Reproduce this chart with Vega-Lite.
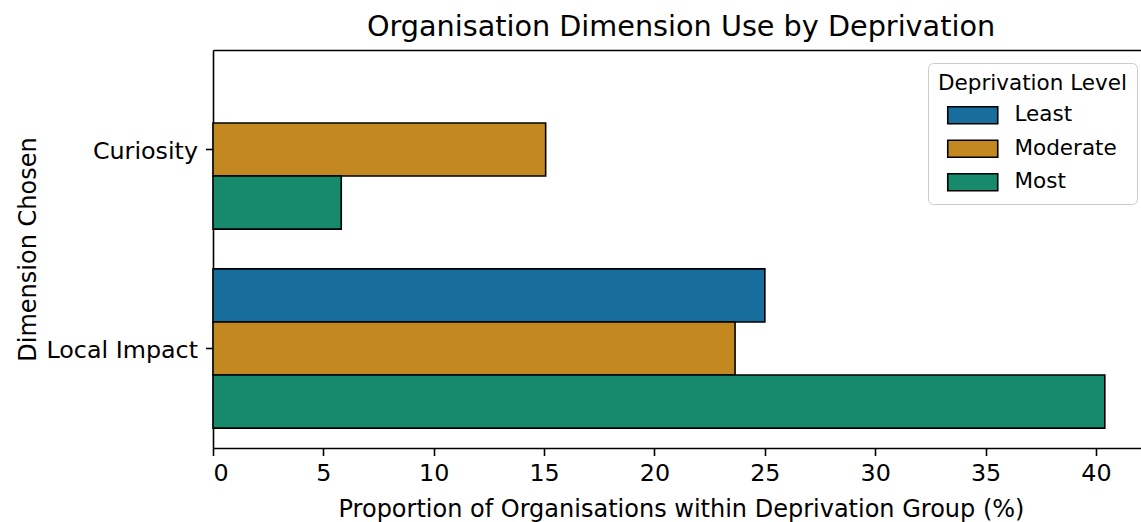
{
  "$schema": "https://vega.github.io/schema/vega-lite/v6.json",
  "autosize": {"type": "none"},
  "padding": {"left": 213, "top": 50, "right": 0, "bottom": 74},
  "width": 928,
  "height": 398,
  "background": "white",
  "title": {
    "text": "Organisation Dimension Use by Deprivation",
    "font": "DejaVu Sans",
    "fontSize": 28.7,
    "fontWeight": "normal",
    "color": "black",
    "anchor": "middle",
    "dx": 4,
    "offset": 8
  },
  "data": {
    "values": [
      {"Dimension": "Curiosity", "Deprivation": "Moderate", "Percent": 15.07},
      {"Dimension": "Curiosity", "Deprivation": "Most", "Percent": 5.81},
      {"Dimension": "Local Impact", "Deprivation": "Least", "Percent": 25.0},
      {"Dimension": "Local Impact", "Deprivation": "Moderate", "Percent": 23.65},
      {"Dimension": "Local Impact", "Deprivation": "Most", "Percent": 40.4}
    ]
  },
  "config": {
    "view": {"stroke": null},
    "font": "DejaVu Sans",
    "axis": {
      "domainColor": "black",
      "domainWidth": 1.6,
      "tickColor": "black",
      "tickWidth": 1.6,
      "tickSize": 7.5,
      "labelFont": "DejaVu Sans",
      "labelFontSize": 23.8,
      "labelColor": "black",
      "titleFont": "DejaVu Sans",
      "titleFontSize": 24,
      "titleFontWeight": "normal",
      "titleColor": "black",
      "grid": false
    }
  },
  "layer": [
    {
      "mark": {"type": "bar", "stroke": "black", "strokeWidth": 1.6, "opacity": 1},
      "encoding": {
        "y": {
          "field": "Dimension",
          "type": "nominal",
          "sort": ["Curiosity", "Local Impact"],
          "scale": {"paddingInner": 0.2, "paddingOuter": 0.1},
          "axis": {"title": "Dimension Chosen", "labelPadding": 8, "labelOffset": 2, "titlePadding": 5, "labelLimit": 300}
        },
        "yOffset": {
          "field": "Deprivation",
          "type": "nominal",
          "sort": ["Least", "Moderate", "Most"],
          "scale": {"paddingInner": 0, "paddingOuter": 0}
        },
        "x": {
          "field": "Percent",
          "type": "quantitative",
          "scale": {"domain": [0, 42.04], "nice": false, "zero": true},
          "axis": {
            "title": "Proportion of Organisations within Deprivation Group (%)",
            "values": [0, 5, 10, 15, 20, 25, 30, 35, 40],
            "labelPadding": 6,
            "titlePadding": 12,
            "titleX": 468
          }
        },
        "color": {
          "field": "Deprivation",
          "type": "nominal",
          "sort": ["Least", "Moderate", "Most"],
          "scale": {"domain": ["Least", "Moderate", "Most"], "range": ["#176d9c", "#c38820", "#168a6a"]},
          "legend": {
            "orient": "none",
            "legendX": 715,
            "legendY": 13,
            "title": "Deprivation Level",
            "titleFont": "DejaVu Sans",
            "titleFontSize": 21.5,
            "titleFontWeight": "normal",
            "titleColor": "black",
            "titlePadding": 10,
            "titleLimit": 400,
            "labelFont": "DejaVu Sans",
            "labelFontSize": 21.5,
            "labelColor": "black",
            "labelLimit": 400,
            "labelOffset": 31,
            "symbolType": "M-2.94,-1H2.94V1H-2.94Z",
            "symbolSize": 289,
            "symbolOffset": 24,
            "symbolStrokeColor": "black",
            "symbolStrokeWidth": 1.6,
            "symbolOpacity": 1,
            "rowPadding": 9.5,
            "strokeColor": "#cccccc",
            "fillColor": "white",
            "cornerRadius": 5,
            "padding": 10
          }
        }
      }
    },
    {
      "mark": {"type": "point", "opacity": 0},
      "encoding": {
        "x": {
          "field": "Percent",
          "type": "quantitative",
          "axis": {"orient": "top", "title": null, "labels": false, "ticks": false, "domain": true}
        }
      }
    }
  ],
  "resolve": {"axis": {"x": "independent"}}
}
